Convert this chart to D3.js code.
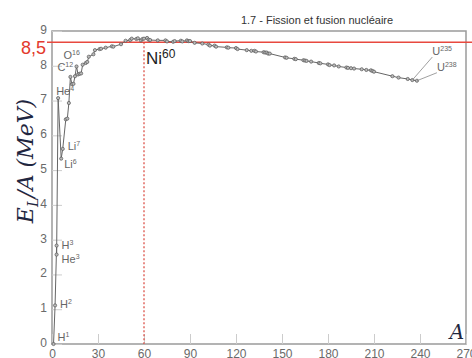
<!DOCTYPE html>
<html>
<head>
<meta charset="utf-8">
<script src="https://cdn.jsdelivr.net/npm/d3@7"></script>
<style>
  body { margin: 0; background: #fff; }
  svg { display: block; font-family: "Liberation Sans", Arial, sans-serif; }
  .axis path { display: none; }
  .axis line { stroke: #ccc; }
  .axis text { fill: #6a6a6a; font-size: 12px; }
</style>
</head>
<body>
<svg id="chart" width="472" height="358"></svg>
<script>
// mass number A and binding energy per nucleon (MeV)
const massNumbers = [1, 2, 3, 3, 4, 6, 7, 9, 10, 11, 12, 13, 14, 15, 16, 17, 18, 19, 20, 22, 23, 24, 27, 28,
  31, 32, 35, 39, 40, 45, 48, 51, 52, 55, 56, 58, 59, 60, 62, 63, 64, 69, 74, 75, 79, 80, 84, 85, 88, 89, 90,
  93, 98, 102, 103, 106, 107, 114, 115, 120, 121, 127, 130, 132, 133, 138, 139, 140, 141, 142, 152, 153, 158,
  159, 164, 165, 166, 169, 174, 175, 180, 181, 184, 187, 192, 193, 195, 197, 202, 205, 208, 209, 210, 222,
  226, 232, 235, 238];
const bindingPerNucleon = [0, 1.11, 2.83, 2.57, 7.07, 5.33, 5.61, 6.46, 6.48, 6.93, 7.68, 7.47, 7.48, 7.70,
  7.98, 7.75, 7.77, 7.78, 8.03, 8.08, 8.11, 8.26, 8.33, 8.45, 8.48, 8.49, 8.52, 8.56, 8.55, 8.62, 8.72, 8.74,
  8.78, 8.77, 8.79, 8.73, 8.77, 8.78, 8.80, 8.75, 8.74, 8.73, 8.73, 8.70, 8.69, 8.71, 8.72, 8.70, 8.73, 8.71,
  8.71, 8.66, 8.64, 8.61, 8.58, 8.58, 8.55, 8.53, 8.52, 8.51, 8.48, 8.45, 8.43, 8.43, 8.41, 8.39, 8.38, 8.38,
  8.35, 8.35, 8.24, 8.23, 8.20, 8.19, 8.16, 8.15, 8.14, 8.12, 8.08, 8.07, 8.04, 8.02, 8.01, 7.98, 7.95, 7.94,
  7.93, 7.92, 7.90, 7.88, 7.87, 7.85, 7.83, 7.70, 7.66, 7.62, 7.59, 7.57];

const nuclideNames = ["H", "H", "H", "He", "He", "Li", "Li", "C", "O", "U", "U"];
const nuclideMass = [1, 2, 3, 3, 4, 6, 7, 12, 16, 235, 238];
const nuclideBE = [0, 1.11, 2.83, 2.57, 7.07, 5.33, 5.61, 7.68, 7.98, 7.59, 7.57];

const xTicks = [0, 30, 60, 90, 120, 150, 180, 210, 240, 270];
const yTicks = [0, 1, 2, 3, 4, 5, 6, 7, 8, 9];
const refLabel = "8,5";
const refLevel = 8.68;   // where the red line sits in the picture
const peakNuclide = "Ni";
const peakMass = 60;
const title = "1.7 - Fission et fusion nucléaire";

const svg = d3.select('#chart');
const x = d3.scaleLinear().domain([0, 270]).range([52, 466]);
const y = d3.scaleLinear().domain([0, 9]).range([344, 31]);

const points = massNumbers.map((a, i) => ({ a: a, be: bindingPerNucleon[i] }));

// frame
svg.append('rect')
  .attr('x', x(0)).attr('y', y(9))
  .attr('width', x(270) - x(0)).attr('height', y(0) - y(9))
  .attr('fill', 'none').attr('stroke', '#9a9a9a').attr('stroke-width', 1.5);

svg.append('g').attr('class', 'axis')
  .attr('transform', `translate(0,${y(0)})`)
  .call(d3.axisBottom(x).tickValues(xTicks).tickSize(-10).tickPadding(5));

const yAxis = svg.append('g').attr('class', 'axis')
  .attr('transform', `translate(${x(0)},0)`)
  .call(d3.axisLeft(y).tickValues(yTicks).tickSize(-10).tickPadding(5));
yAxis.selectAll('text').attr('dy', '0.2em');

// red reference lines
svg.append('line')
  .attr('x1', 47).attr('x2', 472)
  .attr('y1', y(refLevel)).attr('y2', y(refLevel))
  .attr('stroke', '#e8493f').attr('stroke-width', 1.5);

svg.append('line')
  .attr('x1', x(peakMass)).attr('x2', x(peakMass))
  .attr('y1', y(refLevel)).attr('y2', y(0))
  .attr('stroke', '#d9443a').attr('stroke-width', 1.2)
  .attr('stroke-dasharray', '2,2');

svg.append('text')
  .attr('x', 46).attr('y', y(refLevel) + 12)
  .attr('text-anchor', 'end')
  .attr('fill', '#e3392e').attr('font-size', 18)
  .text(refLabel);

// curve
const line = d3.line().x(d => x(d.a)).y(d => y(d.be));
svg.append('path')
  .datum(points)
  .attr('d', line)
  .attr('fill', 'none').attr('stroke', '#666').attr('stroke-width', 1);

svg.append('g').selectAll('circle')
  .data(points)
  .enter().append('circle')
    .attr('cx', d => x(d.a))
    .attr('cy', d => y(d.be))
    .attr('r', 1.6)
    .attr('fill', '#bbb')
    .attr('stroke', '#555')
    .attr('stroke-width', 0.7);

// nuclide labels
const labelOffsets = [[4, -3], [5, 3], [5, 3], [5, 8], [-2, -3], [3, 9], [5, 1], [-13, -6], [-13, -7], [20, -25], [20, -10]];
const labels = svg.append('g').attr('fill', '#666').attr('font-size', 11);
nuclideNames.forEach((n, i) => {
  const px = x(nuclideMass[i]);
  const py = y(nuclideBE[i]);
  const [dx, dy] = labelOffsets[i];
  if (i >= 9) {
    labels.append('line')
      .attr('x1', px).attr('y1', py)
      .attr('x2', px + dx).attr('y2', py + dy + 2)
      .attr('stroke', '#888').attr('stroke-width', 0.8);
  }
  const t = labels.append('text')
    .attr('x', px + dx).attr('y', py + dy);
  t.append('tspan').text(n);
  t.append('tspan').attr('font-size', 7).attr('dy', -4).text(nuclideMass[i]);
});

// Ni60 label
const ni = svg.append('text')
  .attr('x', x(peakMass) + 2).attr('y', y(refLevel) + 22)
  .attr('fill', '#222').attr('font-size', 17);
ni.append('tspan').text(peakNuclide);
ni.append('tspan').attr('font-size', 12).attr('dy', -6).text(peakMass);

// axis titles
svg.append('text')
  .attr('x', 457).attr('y', 339)
  .attr('text-anchor', 'middle')
  .attr('font-family', '"DejaVu Serif", serif')
  .attr('font-style', 'italic').attr('font-size', 20)
  .attr('fill', '#1f2640')
  .text('A');

const yl = svg.append('text')
  .attr('transform', 'translate(33,161) rotate(-90)')
  .attr('text-anchor', 'middle')
  .attr('font-family', '"DejaVu Serif", serif')
  .attr('font-style', 'italic').attr('font-size', 22)
  .attr('fill', '#1f2640');
yl.append('tspan').text('E');
yl.append('tspan').attr('font-size', 14).attr('dy', 5).text('L');
yl.append('tspan').attr('dy', -5).text('/A (MeV)');

svg.append('text')
  .attr('x', 317).attr('y', 24)
  .attr('text-anchor', 'middle')
  .attr('font-size', 11).attr('fill', '#333')
  .text(title);
</script>
</body>
</html>
